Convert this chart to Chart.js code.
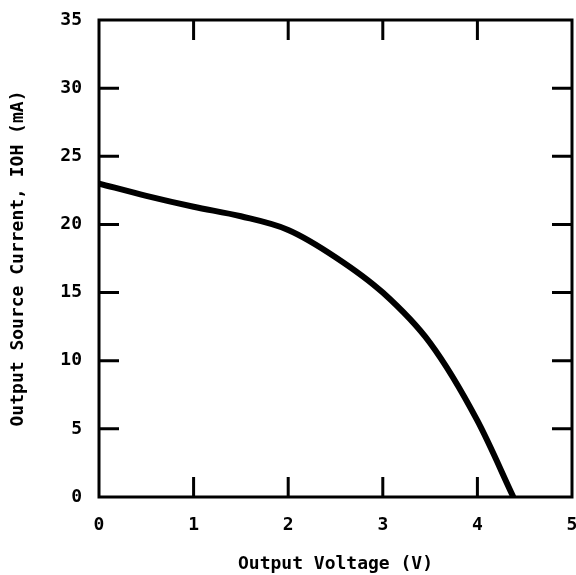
<!DOCTYPE html>
<html>
<head>
<meta charset="utf-8">
<script src="https://cdn.jsdelivr.net/npm/chart.js@4/dist/chart.umd.min.js"></script>
<style>
html,body{margin:0;padding:0;background:#fff;}
#wrap{width:576px;height:575px;}
</style>
</head>
<body>
<div id="wrap"><canvas id="c" width="576" height="575"></canvas></div>
<script>
const voltage = [0, 0.5, 1, 1.5, 2, 2.5, 3, 3.5, 4, 4.38];
const currentIOH = [23.0, 22.1, 21.3, 20.6, 19.6, 17.6, 15.0, 11.3, 5.6, 0];
const xTicks = [0, 1, 2, 3, 4, 5];
const yTicks = [0, 5, 10, 15, 20, 25, 30, 35];
const xTitle = 'Output Voltage (V)';
const yTitle = 'Output Source Current, IOH (mA)';

const FONT = "'DejaVu Sans Mono', monospace";

const framePlugin = {
  id: 'frame',
  afterDraw(chart) {
    const {ctx, chartArea: a, scales} = chart;
    const L = 20;
    ctx.save();
    ctx.strokeStyle = '#000';
    ctx.lineWidth = 3;
    ctx.lineCap = 'butt';
    ctx.strokeRect(a.left, a.top, a.right - a.left, a.bottom - a.top);
    ctx.beginPath();
    xTicks.forEach(v => {
      const px = scales.x.getPixelForValue(v);
      if (px <= a.left + 2 || px >= a.right - 2) return;
      ctx.moveTo(px, a.bottom); ctx.lineTo(px, a.bottom - L);
      ctx.moveTo(px, a.top); ctx.lineTo(px, a.top + L);
    });
    yTicks.forEach(v => {
      const py = scales.y.getPixelForValue(v);
      if (py <= a.top + 2 || py >= a.bottom - 2) return;
      ctx.moveTo(a.left, py); ctx.lineTo(a.left + L, py);
      ctx.moveTo(a.right, py); ctx.lineTo(a.right - L, py);
    });
    ctx.stroke();
    ctx.restore();
  }
};

new Chart(document.getElementById('c'), {
  type: 'scatter',
  data: {
    datasets: [{
      data: voltage.map((v, i) => ({x: v, y: currentIOH[i]})),
      showLine: true,
      borderColor: '#000',
      borderWidth: 6,
      pointRadius: 0,
      cubicInterpolationMode: 'monotone',
      fill: false
    }]
  },
  options: {
    responsive: false,
    animation: false,
    devicePixelRatio: 1,
    layout: {padding: {left: 0, top: 20, right: 4, bottom: 0}},
    plugins: {legend: {display: false}, tooltip: {enabled: false}},
    scales: {
      x: {
        type: 'linear', min: 0, max: 5,
        afterBuildTicks: s => { s.ticks = xTicks.map(v => ({value: v})); },
        afterFit: s => { s.height = 78; s.paddingLeft = 0; s.paddingRight = 0; },
        grid: {display: false, drawTicks: false},
        border: {display: false},
        ticks: {padding: 18, color: '#000', font: {family: FONT, size: 18, weight: 'bold'}, maxRotation: 0},
        title: {display: true, text: xTitle, color: '#000', font: {family: FONT, size: 18, weight: 'bold'}, padding: {top: 0, bottom: 0}}
      },
      y: {
        type: 'linear', min: 0, max: 35,
        afterBuildTicks: s => { s.ticks = yTicks.map(v => ({value: v})); },
        afterFit: s => { s.width = 99; s.paddingTop = 0; s.paddingBottom = 0; },
        grid: {display: false, drawTicks: false},
        border: {display: false},
        ticks: {padding: 17, color: '#000', font: {family: FONT, size: 18, weight: 'bold'}},
        title: {display: true, text: yTitle, color: '#000', font: {family: FONT, size: 18, weight: 'bold'}, padding: {top: 8, bottom: 0}}
      }
    }
  },
  plugins: [framePlugin]
});
</script>
</body>
</html>
